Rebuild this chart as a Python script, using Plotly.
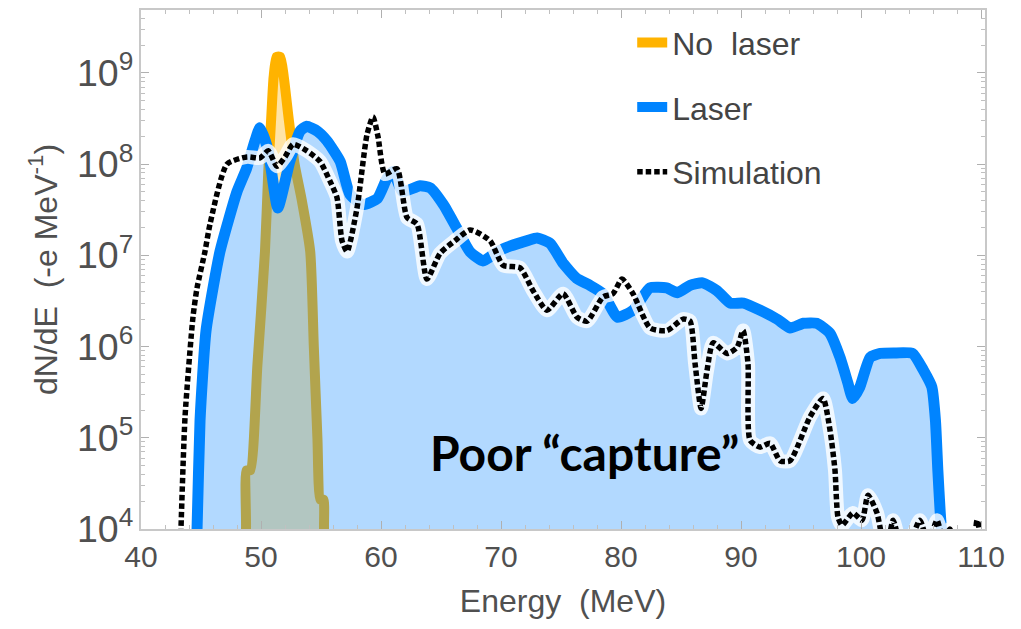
import plotly.graph_objects as go

# Electron energy spectra: measured without laser, with laser, and simulation
NO_LASER_E = [48.5, 48.75, 48.8, 49.1, 49.7, 50.33, 50.6, 50.85, 51.05, 51.3, 51.6,
              51.9, 52.3, 52.8, 53.4, 54.1, 54.4, 54.7, 54.95, 55.2, 55.25, 55.4]
NO_LASER_N = [3e3, 1e4, 4.4e4, 4.4e4, 6.3e5, 1.1e7, 8e7, 3.2e8, 9e8, 1.5e9, 1.5e9,
              9e8, 3.2e8, 1e8, 4e7, 1.1e7, 1e6, 1e5, 2.1e4, 2.1e4, 1e4, 3e3]

LASER_E = [44.5, 44.67, 44.92, 45.42, 46.58, 48.0, 48.8, 49.5, 49.9, 50.6, 51.4, 52.4,
           53.25, 53.8, 54.7, 55.5, 56.6, 57.4, 58.5, 59.7, 60.5, 61.0, 61.8, 63.25,
           64.1, 65.2, 66.3, 67.4, 68.5, 69.7, 70.75, 72.2, 73.0, 74.1, 75.2, 76.3,
           77.4, 78.5, 79.7, 81.0, 82.4, 83.8, 84.7, 85.75, 86.8, 88.0, 89.1, 90.2,
           91.6, 93.0, 94.1, 95.2, 96.3, 97.4, 98.25, 98.9, 99.3, 99.9, 100.75, 101.6,
           102.7, 104.3, 105.2, 105.9, 106.2, 106.4, 106.6, 106.75, 107.0]
LASER_N = [3e3, 1e4, 1.55e5, 1.5e6, 1.1e7, 5e7, 9e7, 1.8e8, 2.5e8, 1.4e8, 3.3e7, 1.07e8,
           2.3e8, 2.6e8, 2.3e8, 1.8e8, 1.07e8, 4.7e7, 3.6e7, 4.2e7, 7e7, 8.3e7, 5e7, 5.8e7,
           5.5e7, 3.6e7, 2e7, 1.1e7, 8.7e6, 1.1e7, 1.26e7, 1.45e7, 1.55e7, 1.35e7, 8.1e6, 5.6e6,
           4.7e6, 3.8e6, 2.1e6, 2.5e6, 4.4e6, 4.4e6, 3.9e6, 4.7e6, 5e6, 4.1e6, 3e6, 3e6,
           2.5e6, 2e6, 1.6e6, 1.8e6, 1.8e6, 1.4e6, 7.6e5, 4e5, 2.7e5, 3.6e5, 7.6e5, 8.4e5,
           8.5e5, 8.4e5, 5.5e5, 3.6e5, 1.55e5, 4.4e4, 1.5e4, 8e3, 3e3]

SIM_E = [43.2, 43.33, 43.67, 44.33, 44.67, 45.33, 45.75, 47.17, 48.83, 49.92, 50.6,
         51.33, 52.0, 52.67, 53.83, 54.92, 55.75, 56.33, 56.75, 57.17, 58.0, 58.83,
         59.33, 59.75, 60.33, 61.33, 62.17, 63.0, 63.83, 64.92, 66.17, 67.42, 69.08,
         70.17, 71.58, 72.67, 73.83, 75.17, 76.33, 77.17, 78.5, 79.33, 80.08, 81.0,
         82.42, 83.83, 85.17, 85.75, 86.17, 86.67, 87.17, 87.67, 88.83, 89.67, 90.17,
         90.58, 90.75, 91.58, 92.42, 93.25, 94.08, 95.75, 96.83, 97.42, 97.83, 98.08,
         98.42, 99.33, 100.08, 100.58, 101.33, 101.75, 102.2, 102.67, 103.3, 104.0,
         104.9, 105.6, 106.33, 106.9, 107.4, 108.2, 109.2, 109.67, 110.2]
SIM_N = [3e3, 1e4, 1.7e5, 2.1e6, 4.4e6, 1.1e7, 2.2e7, 1e8, 1.2e8, 1.17e8, 1.4e8,
         9.5e7, 1.2e8, 1.65e8, 1.4e8, 1.07e8, 6.5e7, 4.3e7, 1.45e7, 1.1e7, 3.3e7, 2.1e8,
         3.3e8, 2e8, 7.8e7, 8.9e7, 2.6e7, 2.2e7, 5.5e6, 1.05e7, 1.45e7, 1.9e7, 1.45e7,
         7.8e6, 7.3e6, 4.1e6, 2.5e6, 3.8e6, 2.1e6, 1.9e6, 3.5e6, 3.8e6, 5.5e6, 3.8e6,
         1.6e6, 1.5e6, 2e6, 1.9e6, 6.5e5, 2.1e5, 5.5e5, 1.1e6, 8.4e5, 9.8e5, 1.5e6,
         6.5e5, 9.4e4, 7.9e4, 8.7e4, 5.6e4, 5.6e4, 1.7e5, 2.7e5, 1.2e5, 4.4e4, 1.35e4,
         1.1e4, 1.5e4, 1.25e4, 2.35e4, 1.5e4, 8.5e3, 7e3, 1.25e4, 7e3, 7e3,
         1.25e4, 7e3, 1.25e4, 7e3, 1e4, 5e3, 5e3, 1.25e4, 5e3]

ORANGE = "#FFB300"
BLUE = "#0084FF"
GRAY_TEXT = "#505050"
FRAME = "#C8C8C8"
SANS = "Liberation Sans, Arial, sans-serif"

fig = go.Figure()

# No-laser spectrum: pale fill, then thick orange line
fig.add_trace(go.Scatter(x=NO_LASER_E, y=NO_LASER_N, mode="lines", fill="tozeroy",
                         fillcolor="rgba(255,179,0,0.35)", line=dict(width=0, shape="spline", smoothing=0.6),
                         showlegend=False, hoverinfo="skip"))
fig.add_trace(go.Scatter(x=NO_LASER_E, y=NO_LASER_N, mode="lines", name="No  laser",
                         legendgroup="a",
                         line=dict(color=ORANGE, width=10, shape="spline", smoothing=0.6)))

# Laser spectrum: translucent blue fill over everything beneath it
fig.add_trace(go.Scatter(x=LASER_E, y=LASER_N, mode="lines", fill="tozeroy",
                         fillcolor="rgba(0,128,255,0.30)", line=dict(width=0, shape="spline", smoothing=0.5),
                         showlegend=False, hoverinfo="skip"))
fig.add_trace(go.Scatter(x=LASER_E, y=LASER_N, mode="lines", name="Laser",
                         legendgroup="b",
                         line=dict(color=BLUE, width=11, shape="spline", smoothing=0.5)))

# Simulation: white halo under a black dotted line
fig.add_trace(go.Scatter(x=SIM_E, y=SIM_N, mode="lines",
                         line=dict(color="rgba(255,255,255,0.8)", width=14, shape="spline", smoothing=0.6),
                         showlegend=False, hoverinfo="skip"))
fig.add_trace(go.Scatter(x=SIM_E, y=SIM_N, mode="lines", name="Simulation",
                         legendgroup="c",
                         line=dict(color="black", width=5.5, dash="5.5px,3px", shape="spline", smoothing=0.6)))

fig.add_annotation(text="<b>Poor “capture”</b>", xref="paper", yref="paper",
                   x=0.526, y=0.148, xanchor="center", yanchor="middle", showarrow=False,
                   font=dict(family="Lato, Open Sans, sans-serif", size=48, color="black"))

axis_common = dict(showline=True, linecolor=FRAME, linewidth=1.5, mirror="allticks",
                   ticks="inside", tickcolor="#B0B0B0", showgrid=False, zeroline=False,
                   tickfont=dict(family=SANS, size=30, color=GRAY_TEXT))

fig.update_xaxes(range=[40, 110.33], dtick=10, tick0=40, ticklen=8,
                 minor=dict(ticks="inside", dtick=2, ticklen=4, tickcolor="#C0C0C0"),
                 title=dict(text="Energy  (MeV)", standoff=18,
                            font=dict(family=SANS, size=32, color=GRAY_TEXT)),
                 **axis_common)
fig.update_yaxes(type="log", range=[4, 9.69], dtick=1, ticklen=8, exponentformat="power",
                 minor=dict(ticks="inside", dtick="D1", ticklen=4, tickcolor="#C0C0C0"),
                 title=dict(text="dN/dE  (-e MeV<sup>-1</sup>)", standoff=10,
                            font=dict(family=SANS, size=32, color=GRAY_TEXT)),
                 **axis_common)

fig.update_layout(
    width=1021, height=629,
    margin=dict(l=141, r=36, t=8, b=100),
    paper_bgcolor="white", plot_bgcolor="white",
    legend=dict(x=0.582, y=0.99, xanchor="left", yanchor="top", bgcolor="rgba(0,0,0,0)",
                tracegroupgap=20,
                font=dict(family=SANS, size=32, color="#444444")),
)

fig.write_html("out.html")
